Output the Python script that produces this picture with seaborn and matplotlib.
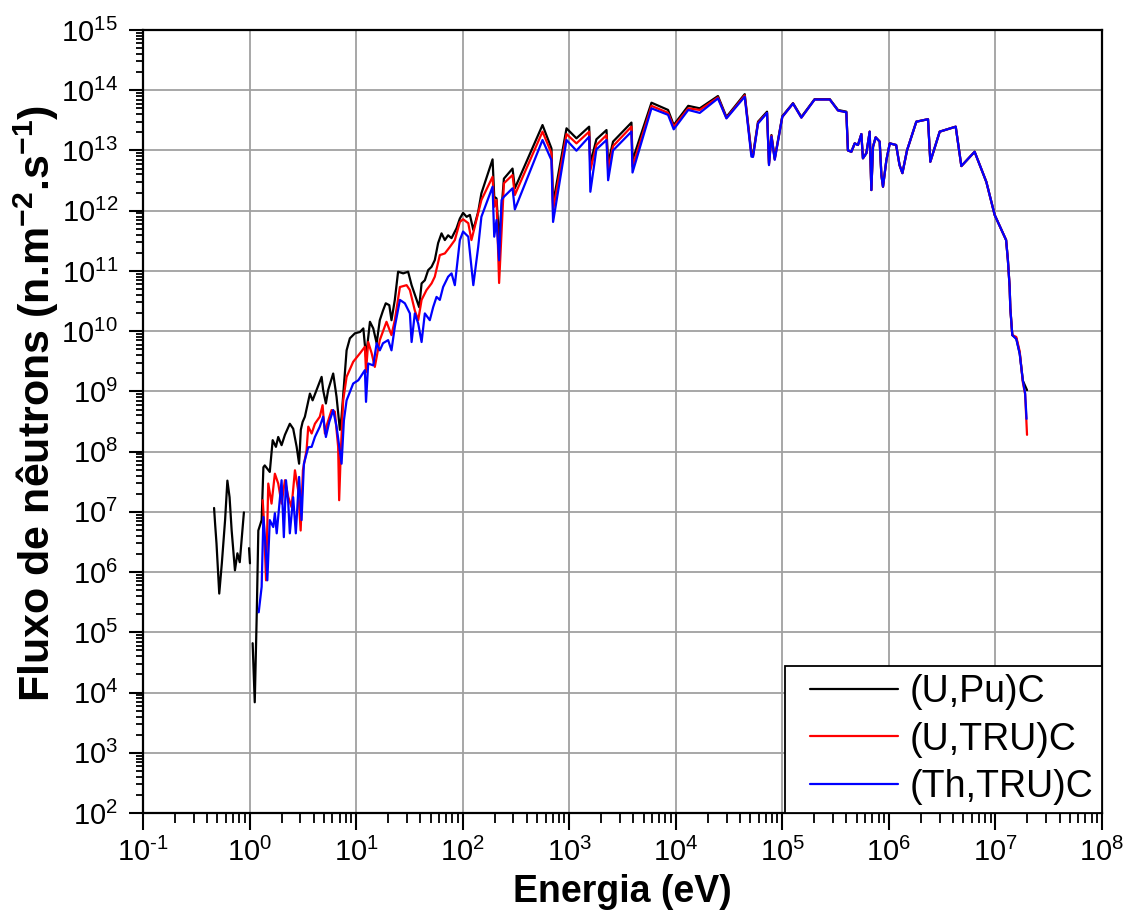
import numpy as np
import pandas as pd
import seaborn as sns
import matplotlib
matplotlib.use("Agg")
import matplotlib.pyplot as plt
from matplotlib.ticker import LogLocator, NullFormatter, FuncFormatter
from matplotlib.lines import Line2D
from matplotlib.legend_handler import HandlerLine2D

nan = np.nan

# series names as in the legend
series = ["(U,Pu)C", "(U,TRU)C", "(Th,TRU)C"]
colors = ["black", "red", "blue"]

# (U,Pu)C below 0.45 MeV (eV, n.m^-2.s^-1); nan = gap in the curve
e_upu = [0.465, 0.475, 0.49, 0.52, 0.55, 0.59, 0.62, 0.65, 0.68, 0.73, 0.77, 0.81, 0.886, 0.94,
         0.99, 1.01, 1.04,
         1.07, 1.12, 1.17, 1.21, 1.30, 1.35, 1.39, 1.55, 1.65, 1.77, 1.86, 2.0, 2.15, 2.39, 2.57,
         2.77, 2.92, 3.03, 3.15, 3.31, 3.69, 3.91, 4.26, 4.75, 4.91, 5.21, 5.47, 6.1, 6.56, 7.05,
         7.31, 7.85, 8.15, 8.75, 9.75, 10.9, 11.7, 12.4, 13.5, 14.5, 15.6, 16.7, 17.9, 19.0, 20.5,
         21.5, 23.1, 24.8, 27.7, 30.8, 33.2, 37.0, 39.1, 41.2, 44.2, 47.5, 51.1, 54.8, 58.9, 63.4,
         68.1, 73.1, 78.7, 87.7, 94.2, 101, 109, 117, 126, 140, 150, 191, 198, 208, 220, 244, 294,
         309, 562, 682, 706, 944, 1170, 1540, 1580, 1800, 2240, 2320, 2580, 3840, 3930, 5920,
         8470, 9570, 1.31e4, 1.68e4, 2.49e4, 2.99e4, 4.44e4, 5.13e4, 5.31e4, 5.92e4, 7.19e4,
         7.5e4, 7.91e4, 8.49e4, 1.0e5, 1.26e5, 1.51e5, 2.01e5, 2.79e5, 3.33e5, 3.99e5, 4.13e5]
f_upu = [1.16e7, 6.5e6, 3.0e6, 4.4e5, 1.4e6, 7.3e6, 3.3e7, 1.75e7, 4.9e6, 1.07e6, 2.05e6, 1.46e6, 9.8e6, nan,
         2.5e6, 1.4e6, nan,
         6.6e4, 6.9e3, 2.1e5, 4.9e6, 7.3e6, 5.5e7, 5.9e7, 4.6e7, 1.55e8, 1.2e8, 1.75e8, 1.28e8, 1.9e8, 2.9e8, 2.4e8,
         1.2e8, 6.3e7, 2.3e8, 3.1e8, 3.8e8, 9.2e8, 7.1e8, 1.05e9, 1.74e9, 1.05e9, 6.3e8, 1.05e9, 1.98e9, 8.1e8, 2.3e8,
         3.8e8, 2.0e9, 4.8e9, 7.6e9, 9.2e9, 9.7e9, 1.11e10, 3.7e9, 1.43e10, 1.11e10, 6.3e9, 1.52e10, 2.2e10, 2.9e10, 2.7e10,
         1.52e10, 3.3e10, 9.7e10, 9.1e10, 9.7e10, 5.8e10, 3.3e10, 2.5e10, 6.2e10, 7.0e10, 1.03e11, 1.17e11, 1.51e11, 2.9e11, 4.2e11,
         3.25e11, 3.9e11, 3.5e11, 5.1e11, 7.4e11, 9.2e11, 7.9e11, 8.5e11, 4.8e11, 9.6e11, 1.94e12, 7.1e12, 1.7e12, 1.6e12, 3.25e11, 3.4e12, 5.0e12,
         2.35e12, 2.64e13, 1.08e13, 1.32e12, 2.33e13, 1.59e13, 2.48e13, 6.1e12, 1.53e13, 2.18e13, 6.1e12, 1.4e13, 2.9e13, 6.9e12, 6.2e13,
         4.7e13, 2.64e13, 5.5e13, 5.0e13, 8.0e13, 3.6e13, 8.6e13, 9.0e12, 8.4e12, 3.0e13, 4.4e13,
         6.1e12, 1.8e13, 7.4e12, 3.7e13, 6.1e13, 3.6e13, 7.1e13, 7.1e13, 4.7e13, 4.4e13, 1.0e13]

# (U,TRU)C below 0.45 MeV
e_utru = [1.33, 1.36, 1.43, 1.50, 1.61, 1.73, 1.86, 2.0, 2.15, 2.31, 2.48, 2.67, 2.86, 3.02, 3.17, 3.43,
          3.56, 3.83, 4.11, 4.57, 4.85, 5.1, 5.36, 5.89, 6.32, 6.79, 6.94, 7.2, 7.57, 8.15, 9.4, 10.9,
          12.1, 12.4, 13.0, 14.0, 15.0, 16.7, 19.3, 21.5, 23.1, 25.8, 29.8, 32.0, 35.6, 38.3, 41.2, 45.8,
          51.1, 54.8, 61.1, 68.1, 75.9, 84.5, 94.2, 101, 113, 121, 150, 191, 198, 208, 220, 244, 294,
          309, 562, 682, 706, 944, 1170, 1540, 1580, 1800, 2240, 2320, 2580, 3840, 3930, 5920, 8470,
          9570, 1.31e4, 1.68e4, 2.49e4, 2.99e4, 4.44e4, 5.13e4, 5.31e4, 5.92e4, 7.19e4, 7.5e4, 7.91e4,
          8.49e4, 1.0e5, 1.26e5, 1.51e5, 2.01e5, 2.79e5, 3.33e5, 3.99e5, 4.13e5]
f_utru = [1.56e7, 8.2e6, 7.3e5, 2.95e7, 1.37e7, 4.3e7, 2.95e7, 1.37e7, 3.35e7, 1.77e7, 1.2e7, 4.9e7, 2.3e7, 4.9e6, 4.9e7, 1.05e8,
          2.6e8, 2.0e8, 2.9e8, 3.8e8, 5.9e8, 2.0e8, 2.9e8, 4.9e8, 4.6e8, 1.2e8, 1.56e7, 1.05e8, 7.1e8, 1.74e9, 3.1e9, 4.3e9,
          5.5e9, 2.1e9, 6.6e9, 4.3e9, 2.55e9, 7.1e9, 1.43e10, 8.6e9, 1.52e10, 5.4e10, 5.8e10, 4.8e10, 2.2e10, 1.52e10, 3.3e10, 4.8e10,
          6.2e10, 8.0e10, 1.83e11, 1.95e11, 2.5e11, 3.25e11, 6.5e11, 7.2e11, 6.2e11, 3.25e11, 1.5e12, 3.65e12, 1.16e12, 1.5e12, 6.3e10, 2.85e12, 3.9e12,
          1.82e12, 2.05e13, 9.0e12, 1.02e12, 1.87e13, 1.31e13, 2.05e13, 4.7e12, 1.23e13, 1.8e13, 4.7e12, 1.18e13, 2.48e13, 5.4e12, 5.5e13, 4.2e13,
          2.48e13, 5.0e13, 4.7e13, 7.6e13, 3.45e13, 8.2e13, 8.6e12, 8.0e12, 2.9e13, 4.2e13, 5.9e12, 1.75e13,
          7.1e12, 3.6e13, 6.0e13, 3.5e13, 7.0e13, 7.0e13, 4.6e13, 4.3e13, 1.0e13]

# (Th,TRU)C below 0.45 MeV
e_thtru = [1.22, 1.30, 1.35, 1.43, 1.47, 1.55, 1.67, 1.73, 1.80, 2.0, 2.1, 2.2, 2.31, 2.39, 2.57, 2.72,
           2.92, 3.08, 3.24, 3.56, 3.83, 4.11, 4.57, 4.91, 5.21, 5.6, 6.1, 6.56, 7.31, 7.69, 8.15, 9.4,
           10.5, 12.1, 12.4, 13.0, 14.5, 15.6, 16.7, 17.9, 20.0, 21.5, 23.1, 25.8, 28.7, 32.0, 33.2, 35.6,
           38.3, 41.2, 44.2, 49.2, 52.9, 56.9, 61.1, 65.6, 73.1, 78.7, 84.5, 94.2, 101, 113, 126, 140, 150,
           191, 198, 208, 220, 232, 244, 294, 309, 562, 682, 706, 944, 1170, 1540, 1580, 1800, 2240, 2320,
           2580, 3840, 3930, 5920, 8470, 9570, 1.31e4, 1.68e4, 2.49e4, 2.99e4, 4.44e4, 5.13e4, 5.31e4,
           5.92e4, 7.19e4, 7.5e4, 7.91e4, 8.49e4, 1.0e5, 1.26e5, 1.51e5, 2.01e5, 2.79e5, 3.33e5, 3.99e5, 4.13e5]
f_thtru = [2.15e5, 5.7e5, 8.2e6, 2.05e6, 7.3e5, 7.3e6, 5.6e6, 9.5e6, 4.4e6, 3.35e7, 3.8e6, 3.35e7, 1.39e7, 4.4e6, 1.75e7, 4.4e6,
           3.8e7, 7.3e6, 6.3e7, 1.18e8, 1.2e8, 1.75e8, 2.6e8, 3.8e8, 1.75e8, 3.1e8, 4.9e8, 2.6e8, 6.3e7, 3.3e8, 7.1e8, 1.35e9,
           1.53e9, 2.25e9, 6.7e8, 2.9e9, 2.7e9, 6.3e9, 4.8e9, 6.3e9, 7.1e9, 4.8e9, 1.18e10, 3.3e10, 2.9e10, 1.97e10, 6.6e9, 1.97e10,
           1.34e10, 6.6e9, 1.97e10, 1.52e10, 2.5e10, 3.7e10, 3.3e10, 5.4e10, 8.0e10, 9.1e10, 5.8e10, 3.25e11, 4.5e11, 3.7e11, 5.8e10, 2.5e11, 7.9e11,
           2.5e12, 3.7e11, 7.0e11, 1.5e11, 1.5e12, 1.7e12, 2.35e12, 1.05e12, 1.49e13, 6.9e12, 6.5e11, 1.49e13, 9.9e12, 1.69e13, 2.06e12, 1.04e13, 1.49e13, 3.2e12,
           1.0e13, 2.05e13, 4.3e12, 5.0e13, 3.9e13, 2.24e13, 4.7e13, 4.2e13, 7.3e13, 3.4e13, 7.8e13, 7.9e12, 7.8e12,
           2.8e13, 4.2e13, 5.7e12, 1.7e13, 7.0e12, 3.6e13, 6.0e13, 3.5e13, 7.0e13, 7.0e13, 4.6e13, 4.3e13, 1.0e13]

# fast region where the three spectra lie on top of each other
e_fast = [4.45e5, 4.78e5, 5.13e5, 5.52e5, 5.71e5, 6.15e5, 6.61e5, 6.85e5, 7.1e5, 7.52e5, 8.2e5, 8.51e5,
          8.81e5, 9.48e5, 1.02e6, 1.17e6, 1.26e6, 1.34e6, 1.48e6, 1.81e6, 2.33e6, 2.45e6, 3.0e6, 4.24e6,
          4.79e6, 6.38e6, 8.22e6, 9.84e6, 1.26e7, 1.31e7, 1.36e7, 1.38e7, 1.44e7]
f_fast = [9.5e12, 1.31e13, 1.23e13, 1.87e13, 7.4e12, 9.0e12, 2.05e13, 2.2e12, 1.15e13, 1.65e13, 1.4e13, 3.9e12,
          2.5e12, 6.9e12, 1.31e13, 1.23e13, 5.7e12, 4.2e12, 1.0e13, 3.0e13, 3.3e13, 6.5e12, 2.05e13, 2.48e13,
          5.5e12, 9.5e12, 3.0e12, 8.5e11, 3.25e11, 1.5e11, 5.4e10, 2.4e10, 8.6e9]

# high energy tails
e_upu_tail = [1.57e7, 1.69e7, 1.81e7, 1.98e7]
f_upu_tail = [7.6e9, 4.3e9, 1.5e9, 1.05e9]
e_utru_tail = [1.57e7, 1.69e7, 1.81e7, 1.9e7, 1.98e7]
f_utru_tail = [8.0e9, 4.6e9, 1.4e9, 9.0e8, 1.9e8]
e_thtru_tail = [1.57e7, 1.69e7, 1.81e7, 1.9e7, 1.96e7]
f_thtru_tail = [7.4e9, 4.2e9, 1.5e9, 9.3e8, 3.5e8]

parts = {
    "(U,Pu)C": (e_upu + e_fast + e_upu_tail, f_upu + f_fast + f_upu_tail),
    "(U,TRU)C": (e_utru + e_fast + e_utru_tail, f_utru + f_fast + f_utru_tail),
    "(Th,TRU)C": (e_thtru + e_fast + e_thtru_tail, f_thtru + f_fast + f_thtru_tail),
}

frames = []
for name, (e, f) in parts.items():
    d = pd.DataFrame({"energia": e, "fluxo": f})
    d["seg"] = d["fluxo"].isna().cumsum()
    d["serie"] = name
    frames.append(d.dropna())
df = pd.concat(frames, ignore_index=True)
df["unit"] = df["serie"] + "_" + df["seg"].astype(str)

sns.set_theme(style="white")
plt.rcParams["font.family"] = ["Liberation Sans", "DejaVu Sans"]
plt.rcParams["mathtext.fontset"] = "custom"
plt.rcParams["mathtext.rm"] = "Liberation Sans"
plt.rcParams["mathtext.it"] = "Liberation Sans:italic"
plt.rcParams["mathtext.bf"] = "Liberation Sans:bold"
for k in ["text.color", "axes.labelcolor", "xtick.color", "ytick.color"]:
    plt.rcParams[k] = "black"

fig = plt.figure(figsize=(11.3, 9.19), dpi=100)
ax = fig.add_axes([0.1265, 0.1153, 0.8487, 0.8521])
ax.set_xscale("log")
ax.set_yscale("log")

sns.lineplot(data=df, x="energia", y="fluxo", hue="serie", hue_order=series,
             palette=dict(zip(series, colors)), units="unit", estimator=None,
             sort=False, linewidth=1.6, ax=ax)

ax.set_xlim(1e-1, 1e8)
ax.set_ylim(1e2, 1e15)


def pow10(v, pos):
    n = int(round(np.log10(v)))
    s = str(n).replace("-", r"\text{-}")
    return r"$\mathdefault{10^{%s}}$" % s


for axis in (ax.xaxis, ax.yaxis):
    axis.set_major_locator(LogLocator(base=10, numticks=20))
    axis.set_minor_locator(LogLocator(base=10, subs=np.arange(2, 10), numticks=200))
    axis.set_major_formatter(FuncFormatter(pow10))
    axis.set_minor_formatter(NullFormatter())

ax.grid(True, which="major", color="#a0a0a0", linewidth=1.3)
ax.set_axisbelow(True)
for s in ax.spines.values():
    s.set_color("black")
    s.set_linewidth(1.6)
ax.tick_params(which="both", direction="out", colors="black",
               bottom=True, left=True, top=False, right=False)
ax.tick_params(axis="x", which="major", length=12, width=1.5, labelsize=21, pad=6)
ax.tick_params(axis="x", which="minor", length=7, width=1.3)
ax.tick_params(axis="y", which="major", length=10, width=1.5, labelsize=21, pad=8)
ax.tick_params(axis="y", which="minor", length=5, width=1.3)

ax.set_xlabel("Energia (eV)", fontsize=27, fontweight="bold", labelpad=5)
ax.set_ylabel(r"Fluxo de nêutrons (n.m$^{\mathbf{-2}}$.s$^{\mathbf{-1}}$)",
              fontsize=31, fontweight="bold")
ax.yaxis.set_label_coords(-0.085, 0.523)

handles, labels = ax.get_legend_handles_labels()
leg = ax.legend(handles, labels, loc="lower right", fontsize=27, frameon=True,
                fancybox=False, edgecolor="black", framealpha=1, borderaxespad=0,
                borderpad=0.22, handlelength=2.8, handletextpad=0.32, labelspacing=0.3,
                handler_map={Line2D: HandlerLine2D(xpad=0.45)})
leg.get_frame().set_linewidth(1.3)
for line in leg.get_lines():
    line.set_linewidth(1.6)

fig.savefig("out.png", dpi=100)
